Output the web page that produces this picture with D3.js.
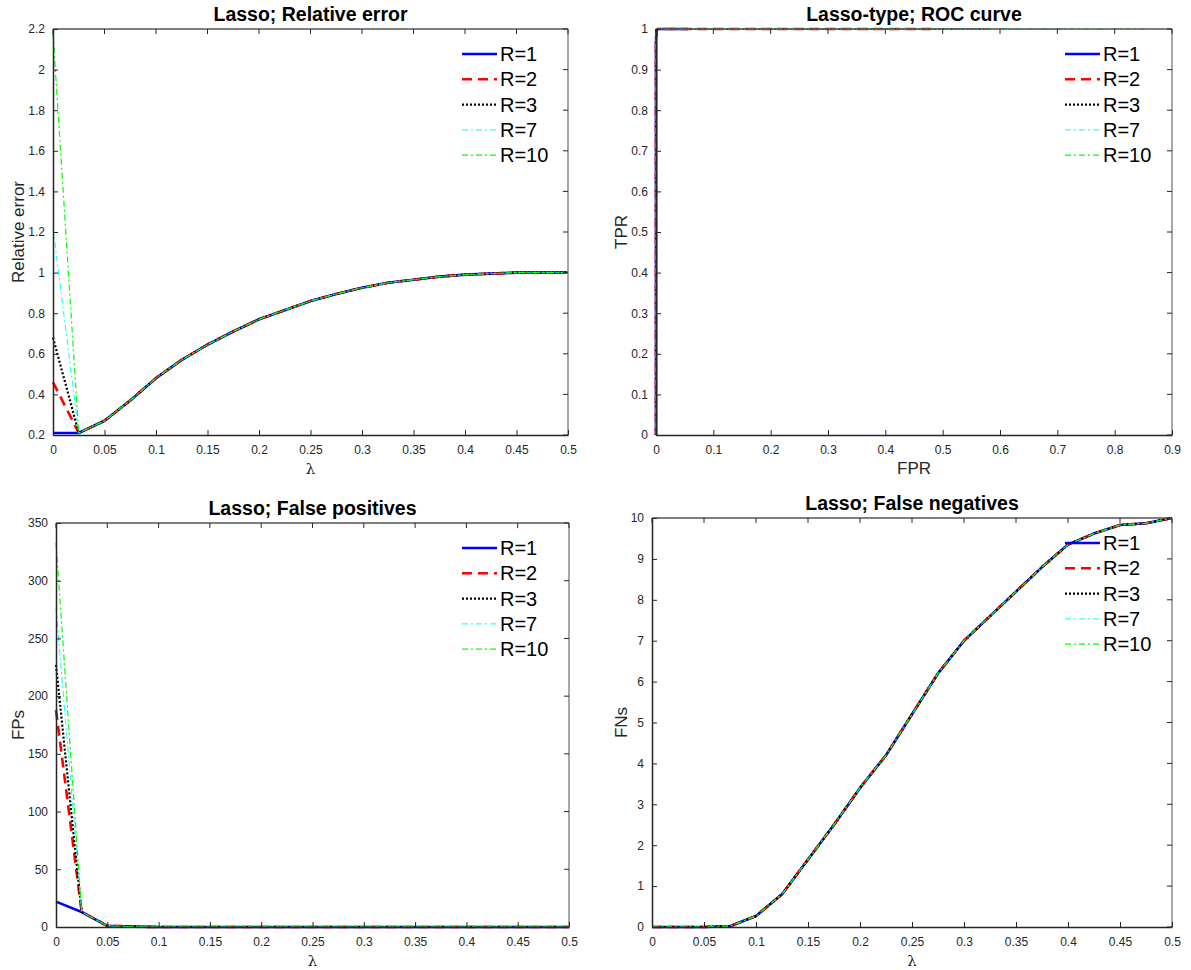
<!DOCTYPE html>
<html>
<head>
<meta charset="utf-8">
<script src="https://cdn.jsdelivr.net/npm/d3@7"></script>
<style>
  body { margin: 0; background: #fff; }
  svg { display: block; font-family: "Liberation Sans", Arial, sans-serif; }
  .tick text { fill: #262626; font-size: 12px; }
</style>
</head>
<body>
<svg id="chart" width="1191" height="970"></svg>
<script>
// lambda grid shared by the lasso panels
const lambdas = [0, 0.025, 0.05, 0.075, 0.1, 0.125, 0.15, 0.175, 0.2, 0.225, 0.25,
                 0.275, 0.3, 0.325, 0.35, 0.375, 0.4, 0.425, 0.45, 0.475, 0.5];

const seriesNames = ["R=1", "R=2", "R=3", "R=7", "R=10"];

// relative error (curves only differ at lambda = 0)
const relErrR1  = [0.21, 0.21, 0.27, 0.37, 0.48, 0.57, 0.645, 0.71, 0.77, 0.815, 0.86, 0.895, 0.925, 0.95, 0.965, 0.98, 0.99, 0.995, 1.0, 1.0, 1.0];
const relErrR2  = [0.46, 0.21, 0.27, 0.37, 0.48, 0.57, 0.645, 0.71, 0.77, 0.815, 0.86, 0.895, 0.925, 0.95, 0.965, 0.98, 0.99, 0.995, 1.0, 1.0, 1.0];
const relErrR3  = [0.68, 0.21, 0.27, 0.37, 0.48, 0.57, 0.645, 0.71, 0.77, 0.815, 0.86, 0.895, 0.925, 0.95, 0.965, 0.98, 0.99, 0.995, 1.0, 1.0, 1.0];
const relErrR7  = [1.22, 0.21, 0.27, 0.37, 0.48, 0.57, 0.645, 0.71, 0.77, 0.815, 0.86, 0.895, 0.925, 0.95, 0.965, 0.98, 0.99, 0.995, 1.0, 1.0, 1.0];
const relErrR10 = [2.18, 0.21, 0.27, 0.37, 0.48, 0.57, 0.645, 0.71, 0.77, 0.815, 0.86, 0.895, 0.925, 0.95, 0.965, 0.98, 0.99, 0.995, 1.0, 1.0, 1.0];

// false positives
const fpR1  = [22, 13, 1, 0.3, 0, 0, 0, 0, 0, 0, 0, 0, 0, 0, 0, 0, 0, 0, 0, 0, 0];
const fpR2  = [188, 13, 1, 0.3, 0, 0, 0, 0, 0, 0, 0, 0, 0, 0, 0, 0, 0, 0, 0, 0, 0];
const fpR3  = [227, 13, 1, 0.3, 0, 0, 0, 0, 0, 0, 0, 0, 0, 0, 0, 0, 0, 0, 0, 0, 0];
const fpR7  = [277, 13, 1, 0.3, 0, 0, 0, 0, 0, 0, 0, 0, 0, 0, 0, 0, 0, 0, 0, 0, 0];
const fpR10 = [333, 13, 1, 0.3, 0, 0, 0, 0, 0, 0, 0, 0, 0, 0, 0, 0, 0, 0, 0, 0, 0];

// false negatives (same for every R)
const fnAll = [0, 0, 0, 0.02, 0.27, 0.8, 1.65, 2.5, 3.4, 4.2, 5.2, 6.2, 7.0, 7.6, 8.2, 8.8, 9.35, 9.62, 9.83, 9.87, 10];

// ROC curve points
const tprAll  = [1, 1, 1, 0.998, 0.973, 0.92, 0.835, 0.75, 0.66, 0.58, 0.48, 0.38, 0.3, 0.24, 0.18, 0.12, 0.065, 0.038, 0.017, 0.013, 0];
const fprR1  = [0.056, 0.033, 0.003, 0.001, 0, 0, 0, 0, 0, 0, 0, 0, 0, 0, 0, 0, 0, 0, 0, 0, 0];
const fprR2  = [0.48, 0.033, 0.003, 0.001, 0, 0, 0, 0, 0, 0, 0, 0, 0, 0, 0, 0, 0, 0, 0, 0, 0];
const fprR3  = [0.58, 0.033, 0.003, 0.001, 0, 0, 0, 0, 0, 0, 0, 0, 0, 0, 0, 0, 0, 0, 0, 0, 0];
const fprR7  = [0.71, 0.033, 0.003, 0.001, 0, 0, 0, 0, 0, 0, 0, 0, 0, 0, 0, 0, 0, 0, 0, 0, 0];
const fprR10 = [0.853, 0.033, 0.003, 0.001, 0, 0, 0, 0, 0, 0, 0, 0, 0, 0, 0, 0, 0, 0, 0, 0, 0];

// tick labels
const lambdaTicks = [0, 0.05, 0.1, 0.15, 0.2, 0.25, 0.3, 0.35, 0.4, 0.45, 0.5];
const relErrTicks = [0.2, 0.4, 0.6, 0.8, 1, 1.2, 1.4, 1.6, 1.8, 2, 2.2];
const fprTicks = [0, 0.1, 0.2, 0.3, 0.4, 0.5, 0.6, 0.7, 0.8, 0.9];
const tprTicks = [0, 0.1, 0.2, 0.3, 0.4, 0.5, 0.6, 0.7, 0.8, 0.9, 1];
const fpTicks = [0, 50, 100, 150, 200, 250, 300, 350];
const fnTicks = [0, 1, 2, 3, 4, 5, 6, 7, 8, 9, 10];

// line styles for R=1,2,3,7,10
const styles = [
    { color: "#0000ff", width: 2.6, dash: null },
    { color: "#ff0000", width: 2.6, dash: "10,6" },
    { color: "#000000", width: 2.2, dash: "2,2" },
    { color: "#00ffff", width: 1, dash: "6,3,2,3" },
    { color: "#00ff00", width: 1.2, dash: "6,3,2,3" }
];

const svg = d3.select("#chart");
const fmt = d => String(+d.toFixed(3));

function drawPanel(p) {
    const x = d3.scaleLinear().domain(p.xDomain).range([p.left, p.right]);
    const y = d3.scaleLinear().domain(p.yDomain).range([p.bottom, p.top]);
    const g = svg.append("g");

    // lines
    const line = d3.line().x(d => x(d[0])).y(d => y(d[1]));
    p.series.forEach((s, i) => {
        const pts = s.xs.map((v, j) => [v, s.ys[j]]);
        g.append("path")
            .attr("d", line(pts))
            .attr("fill", "none")
            .attr("stroke", styles[i].color)
            .attr("stroke-width", styles[i].width)
            .attr("stroke-dasharray", styles[i].dash)
            .attr("stroke-linejoin", "round");
    });

    // box: top and right lighter
    g.append("line").attr("x1", p.left).attr("x2", p.right).attr("y1", p.top).attr("y2", p.top)
        .attr("stroke", "#555").attr("stroke-width", 1.5);
    g.append("line").attr("x1", p.right).attr("x2", p.right).attr("y1", p.top).attr("y2", p.bottom)
        .attr("stroke", "#888").attr("stroke-width", 1.5);

    // axes with inward ticks
    const xAxis = g.append("g").attr("transform", `translate(0,${p.bottom})`)
        .call(d3.axisBottom(x).tickValues(p.xTicks).tickFormat(fmt).tickSizeInner(-5).tickSizeOuter(0).tickPadding(10));
    const yAxis = g.append("g").attr("transform", `translate(${p.left},0)`)
        .call(d3.axisLeft(y).tickValues(p.yTicks).tickFormat(fmt).tickSizeInner(-5).tickSizeOuter(0).tickPadding(8));
    [xAxis, yAxis].forEach(a => {
        a.select(".domain").attr("stroke", "#262626").attr("stroke-width", 1.5);
        a.selectAll(".tick line").attr("stroke", "#262626");
        a.selectAll(".tick text").style("font-size", "12px").attr("fill", "#262626");
    });

    // mirrored ticks on top and right
    g.selectAll(".tt").data(p.xTicks).enter().append("line")
        .attr("x1", d => x(d)).attr("x2", d => x(d)).attr("y1", p.top).attr("y2", p.top + 5)
        .attr("stroke", "#262626");
    g.selectAll(".rt").data(p.yTicks).enter().append("line")
        .attr("x1", p.right).attr("x2", p.right - 5).attr("y1", d => y(d)).attr("y2", d => y(d))
        .attr("stroke", "#262626");

    // title and axis labels
    g.append("text").attr("x", (p.left + p.right) / 2).attr("y", p.top - 8)
        .attr("text-anchor", "middle").style("font-weight", "bold").style("font-size", "19.5px")
        .text(p.title);
    const isLambda = p.xLabel === "λ";
    g.append("text").attr("x", (p.left + p.right) / 2).attr("y", p.bottom + 39)
        .attr("text-anchor", "middle").style("font-size", isLambda ? "15px" : "17px")
        .style("font-family", isLambda ? "'DejaVu Serif', serif" : null)
        .attr("fill", "#262626").text(p.xLabel);
    g.append("text")
        .attr("transform", `translate(${p.yLabelX},${(p.top + p.bottom) / 2}) rotate(-90)`)
        .attr("text-anchor", "middle").style("font-size", "17px").attr("fill", "#262626")
        .text(p.yLabel);

    // legend
    const lg = g.append("g").attr("transform", `translate(${p.legendX},${p.legendY})`);
    seriesNames.forEach((name, i) => {
        lg.append("line").attr("x1", 0).attr("x2", 35).attr("y1", i * 25.3).attr("y2", i * 25.3)
            .attr("stroke", styles[i].color).attr("stroke-width", styles[i].width)
            .attr("stroke-dasharray", styles[i].dash);
        lg.append("text").attr("x", 38).attr("y", i * 25.3 + 7)
            .style("font-size", "20px").attr("fill", "#000").text(name);
    });
}

drawPanel({
    title: "Lasso; Relative error", xLabel: "λ", yLabel: "Relative error",
    left: 53, right: 568, top: 29, bottom: 435, yLabelX: 24,
    xDomain: [0, 0.5], yDomain: [0.2, 2.2], xTicks: lambdaTicks, yTicks: relErrTicks,
    legendX: 462, legendY: 54,
    series: [relErrR1, relErrR2, relErrR3, relErrR7, relErrR10].map(ys => ({ xs: lambdas, ys }))
});

drawPanel({
    title: "Lasso-type; ROC curve", xLabel: "FPR", yLabel: "TPR",
    left: 656, right: 1172, top: 29, bottom: 435, yLabelX: 627,
    xDomain: [0, 0.9], yDomain: [0, 1], xTicks: fprTicks, yTicks: tprTicks,
    legendX: 1065, legendY: 54,
    series: [fprR1, fprR2, fprR3, fprR7, fprR10].map(xs => ({ xs, ys: tprAll }))
});

drawPanel({
    title: "Lasso; False positives", xLabel: "λ", yLabel: "FPs",
    left: 56, right: 569, top: 523, bottom: 927, yLabelX: 24,
    xDomain: [0, 0.5], yDomain: [0, 350], xTicks: lambdaTicks, yTicks: fpTicks,
    legendX: 462, legendY: 548,
    series: [fpR1, fpR2, fpR3, fpR7, fpR10].map(ys => ({ xs: lambdas, ys }))
});

drawPanel({
    title: "Lasso; False negatives", xLabel: "λ", yLabel: "FNs",
    left: 652, right: 1172, top: 518, bottom: 927, yLabelX: 627,
    xDomain: [0, 0.5], yDomain: [0, 10], xTicks: lambdaTicks, yTicks: fnTicks,
    legendX: 1065, legendY: 543,
    series: [fnAll, fnAll, fnAll, fnAll, fnAll].map(ys => ({ xs: lambdas, ys }))
});
</script>
</body>
</html>
